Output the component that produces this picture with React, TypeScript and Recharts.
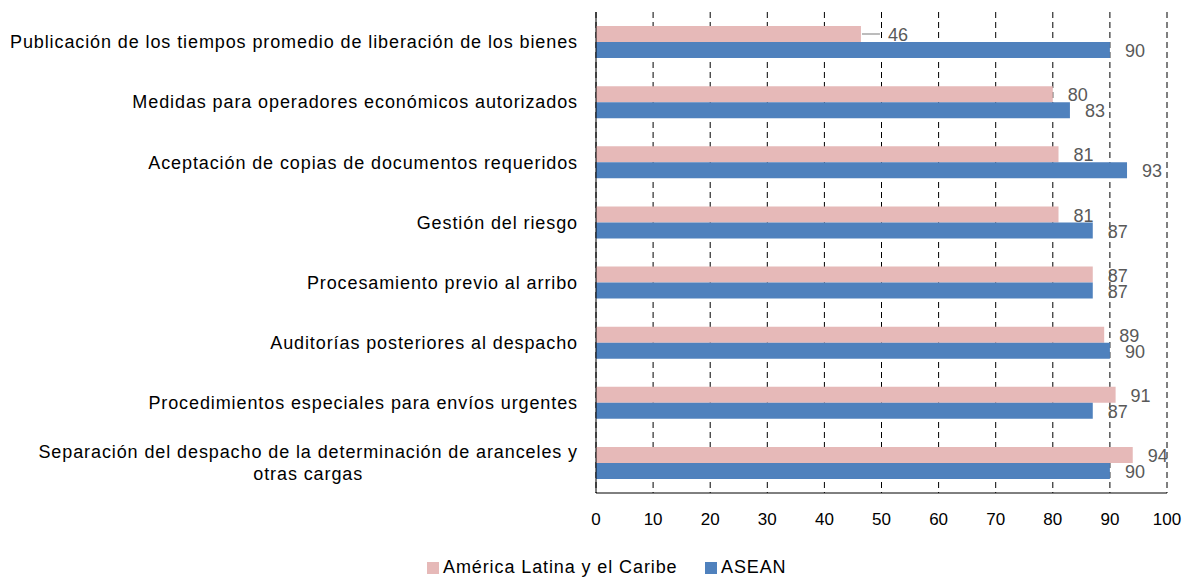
import { Bar, BarChart, CartesianGrid, LabelList, XAxis, YAxis } from 'recharts';

const categories = [
  'Publicación de los tiempos promedio de liberación de los bienes',
  'Medidas para operadores económicos autorizados',
  'Aceptación de copias de documentos requeridos',
  'Gestión del riesgo',
  'Procesamiento previo al arribo',
  'Auditorías posteriores al despacho',
  'Procedimientos especiales para envíos urgentes',
  'Separación del despacho de la determinación de aranceles y\notras cargas',
];
const latam = [46.4, 80, 81, 81, 87, 89, 91, 94];
const asean = [90, 83, 93, 87, 87, 90, 87, 90];
const xTicks = [0, 10, 20, 30, 40, 50, 60, 70, 80, 90, 100];

const seriesNames = ['América Latina y el Caribe', 'ASEAN'];
const seriesColors = ['#E6B9B8', '#4F81BD'];

const data = categories.map((name, i) => ({ name, latam: latam[i], asean: asean[i] }));

const FONT = '"Liberation Sans", Arial, sans-serif';
const SPACING = 0.9;

function measure(text: string) {
  const ctx = document.createElement('canvas').getContext('2d');
  if (!ctx) return text.length * 10;
  ctx.font = `18px ${FONT}`;
  return ctx.measureText(text).width + text.length * SPACING;
}

function CategoryTick(props: any) {
  const { x, y, payload } = props;
  const lines = String(payload.value).split('\n');
  if (lines.length === 1) {
    return (
      <text x={x} y={y} dy="0.35em" textAnchor="end" fontSize={18} letterSpacing={SPACING} fill="#000">
        {lines[0]}
      </text>
    );
  }
  // wrapped label: block right-aligned, lines centred on each other
  const cx = x - measure(lines[0]) / 2;
  return (
    <text fontSize={18} letterSpacing={SPACING} fill="#000" textAnchor="middle">
      {lines.map((l, i) => (
        <tspan key={i} x={cx} y={y + (i - (lines.length - 1) / 2) * 22} dy="0.35em">
          {l}
        </tspan>
      ))}
    </text>
  );
}

function ValueLabel(props: any) {
  const vb = props.viewBox ?? props;
  const { value, index, leader } = props;
  const x = Number(vb.x ?? props.x);
  const y = Number(vb.y ?? props.y);
  const width = Number(vb.width ?? props.width);
  const height = Number(vb.height ?? props.height);
  const endX = x + width;
  const cy = y + height / 2;
  const hasLeader = leader && index === 0;
  const tx = endX + (hasLeader ? 27 : 15);
  return (
    <g>
      {hasLeader && (
        <line x1={endX + 1} y1={cy} x2={endX + 19} y2={cy} stroke="#A6A6A6" strokeWidth={1.5} />
      )}
      <text x={tx} y={cy} dy="0.4em" fill="#595959" fontSize={18}>
        {Math.round(Number(value))}
      </text>
    </g>
  );
}

export default function App() {
  return (
    <div style={{ fontFamily: FONT, width: 1175 }}>
      <BarChart
        width={1175}
        height={540}
        data={data}
        layout="vertical"
        margin={{ top: 4, right: 16, bottom: 0, left: 0 }}
        barSize={16}
        barGap={0}
      >
        <CartesianGrid horizontal={false} stroke="#000" strokeDasharray="6 4" />
        <XAxis
          type="number"
          domain={[0, 100]}
          ticks={xTicks}
          interval={0}
          height={55}
          tickLine={false}
          tickSize={6}
          tickMargin={14}
          axisLine={{ stroke: '#000' }}
          tick={{ fill: '#000', fontSize: 17 }}
        />
        <YAxis
          type="category"
          dataKey="name"
          width={588}
          interval={0}
          tickLine={false}
          tickSize={6}
          tickMargin={12}
          axisLine={{ stroke: '#000' }}
          tick={<CategoryTick />}
        />
        <Bar dataKey="latam" fill={seriesColors[0]} isAnimationActive={false}>
          <LabelList dataKey="latam" content={(p: any) => <ValueLabel {...p} leader />} />
        </Bar>
        <Bar dataKey="asean" fill={seriesColors[1]} isAnimationActive={false}>
          <LabelList dataKey="asean" content={(p: any) => <ValueLabel {...p} />} />
        </Bar>
      </BarChart>
      <div
        style={{
          display: 'flex',
          alignItems: 'center',
          paddingLeft: 419,
          marginTop: 9,
          fontSize: 18,
          letterSpacing: SPACING,
          lineHeight: '21px',
        }}
      >
        {seriesNames.map((n, i) => (
          <div key={n} style={{ display: 'flex', alignItems: 'center', width: i === 0 ? 278 : 'auto' }}>
            <span style={{ width: 12, height: 12, background: seriesColors[i], marginRight: 4 }} />
            <span>{n}</span>
          </div>
        ))}
      </div>
    </div>
  );
}
